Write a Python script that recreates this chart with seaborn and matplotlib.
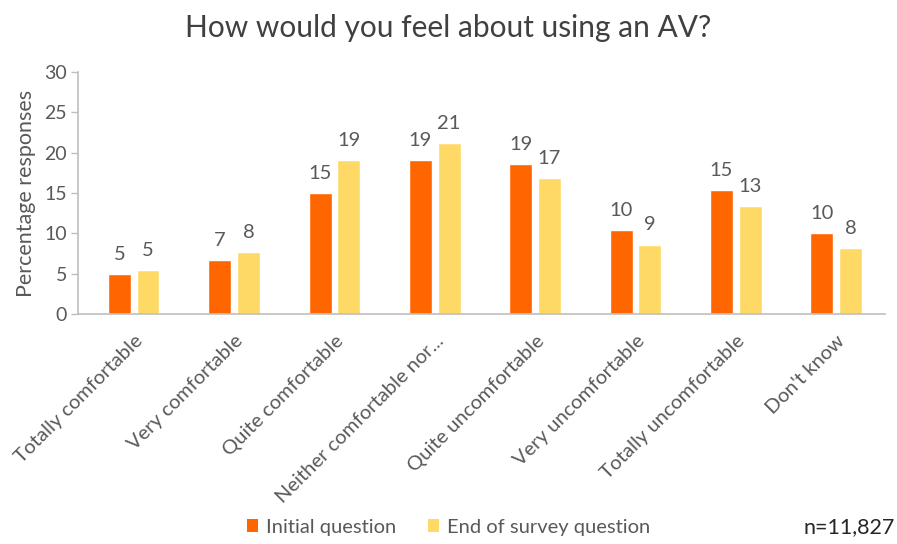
import matplotlib
matplotlib.use("Agg")
import matplotlib.pyplot as plt
import seaborn as sns
import pandas as pd
from matplotlib.patches import Patch

categories = ["Totally comfortable", "Very comfortable", "Quite comfortable",
              "Neither comfortable nor...", "Quite uncomfortable", "Very uncomfortable",
              "Totally uncomfortable", "Don't know"]
initial = [4.9, 6.65, 14.95, 19.1, 18.6, 10.4, 15.4, 10.0]
end_survey = [5.4, 7.65, 19.1, 21.15, 16.8, 8.6, 13.4, 8.15]
initial_labels = [5, 7, 15, 19, 19, 10, 15, 10]
end_labels = [5, 8, 19, 21, 17, 9, 13, 8]
series = ["Initial question", "End of survey question"]
colors = ["#FF6600", "#FFD966"]

df = pd.DataFrame({
    "category": categories * 2,
    "value": initial + end_survey,
    "series": [series[0]] * len(categories) + [series[1]] * len(categories),
})

sns.set_theme(style="white")
plt.rcParams["font.family"] = ["Lato", "DejaVu Sans"]
text_col = "#595959"

fig = plt.figure(figsize=(8.97, 5.44), dpi=100)
ax = fig.add_axes([0.087, 0.4228, 0.9, 0.445])

sns.barplot(data=df, x="category", y="value", hue="series", palette=colors,
            width=0.57, gap=0.2, ax=ax, legend=False, saturation=1)

for cont, labs in zip(ax.containers, [initial_labels, end_labels]):
    ax.bar_label(cont, labels=[str(v) for v in labs], padding=8,
                 fontsize=14.5, color=text_col)

ax.set_ylim(0, 30)
ax.set_xlim(-0.555, 7.49)
ax.set_yticks([0, 5, 10, 15, 20, 25, 30])
ax.tick_params(axis="y", labelsize=14, colors=text_col, length=5, width=1,
               left=True, pad=3, color="#BFBFBF")
ax.tick_params(axis="x", length=0, pad=13)
ax.set_xticks(range(len(categories)))
ax.set_xticklabels(categories, rotation=45, ha="right", rotation_mode="anchor",
                   fontsize=14.5, color=text_col)
ax.set_xlabel("")
ax.set_ylabel("Percentage responses", fontsize=15.5, color=text_col, labelpad=6)

for s in ["top", "right"]:
    ax.spines[s].set_visible(False)
for s in ["left", "bottom"]:
    ax.spines[s].set_color("#BFBFBF")
    ax.spines[s].set_linewidth(1.2)

fig.text(0.5, 0.948, "How would you feel about using an AV?", ha="center",
         va="center", fontsize=21.5, color="#404040")

handles = [Patch(facecolor=c, edgecolor="none") for c in colors]
fig.legend(handles, series, loc="center", bbox_to_anchor=(0.5, 0.031),
           ncol=2, frameon=False, fontsize=14.5, handlelength=0.55,
           handleheight=0.55, handletextpad=0.4, columnspacing=1.6,
           labelcolor=text_col)

fig.text(0.998, 0.031, "n=11,827", ha="right", va="center", fontsize=15.5,
         color="#262626")

fig.savefig("out.png", dpi=100)
